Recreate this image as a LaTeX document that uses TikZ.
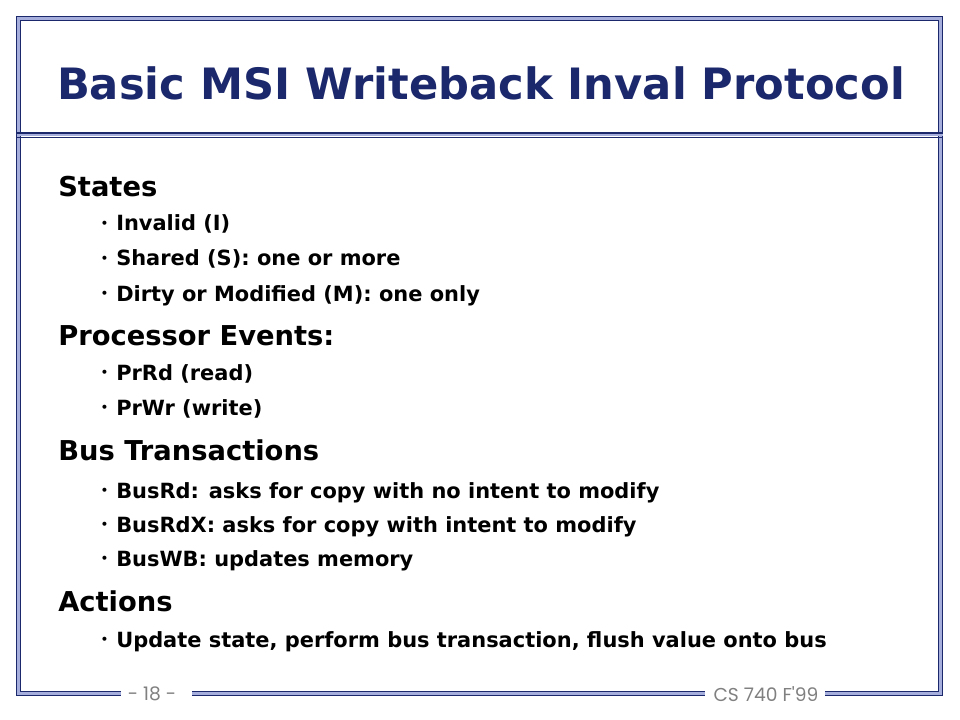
\documentclass[tikz,border=0pt]{standalone}
\usepackage{fontspec}
\usepackage{graphicx}
\setmainfont{DejaVu Sans}
\newfontfamily\footfont{Poppins}
\usepackage{tikz}
\usepackage{xcolor}

\definecolor{slidenavy}{RGB}{28,40,108}
\definecolor{slidelight}{RGB}{166,174,219}
\definecolor{footgray}{RGB}{128,128,128}

\newcommand{\bul}{\llap{\raisebox{0.3ex}{\scalebox{0.55}{\textbullet}}\hspace{6pt}}}

\tikzset{
  titletext/.style={anchor=base, inner sep=0.75pt, text=slidenavy, font=\fontsize{32.4}{36}\selectfont\bfseries},
  headtext/.style={anchor=base west, inner sep=0.75pt, font=\fontsize{20.5}{24}\selectfont\bfseries},
  itemtext/.style={anchor=base west, inner sep=0.75pt, font=\fontsize{15.7}{19}\selectfont\bfseries},
  foottext/.style={anchor=center, inner sep=0.75pt, text=footgray, font=\fontsize{14}{16}\selectfont\footfont},
}

\begin{document}
\begin{tikzpicture}[x=0.75pt,y=0.75pt,yscale=-1,xscale=1]
	\useasboundingbox (0,0) rectangle (960,720);
	\fill[white] (0,0) rectangle (960,720);

	%Frame [id:frame]
	\draw[draw=slidenavy, line width=1.1pt] (16.5,16.5) rectangle (942.5,695.5);
	\draw[draw=slidelight, line width=1.6pt] (18.5,18.5) rectangle (940.5,693.5);
	\draw[draw=slidenavy, line width=0.6pt] (20.5,20.5) rectangle (938.5,691.5);
	%Straight Lines [id:titlerule]
	\draw[draw=slidenavy, line width=1.1pt] (16.5,133) -- (942.5,133);
	\draw[draw=slidelight, line width=1.6pt] (16.5,135) -- (942.5,135);
	\draw[draw=slidenavy, line width=0.6pt] (16.5,137) -- (942.5,137);
	%Gaps for footer
	\fill[white] (121,685) rectangle (192,703);
	\fill[white] (705,685) rectangle (825,703);

	% Text Node
	\node[titletext] (title) at (481,100) {Basic MSI Writeback Inval Protocol};

	% Text Node
	\node[headtext] (states) at (57,197) {States};
	% Text Node
	\node[itemtext] (invalid) at (115,231) {\bul Invalid (I)};
	% Text Node
	\node[itemtext] (shared) at (115,266) {\bul Shared (S): one or more};
	% Text Node
	\node[itemtext] (dirty) at (115,301) {\bul Dirty or Modified (M): one only};

	% Text Node
	\node[headtext] (prevents) at (57,345) {Processor Events:};
	% Text Node
	\node[itemtext] (prrd) at (115,380) {\bul PrRd (read)};
	% Text Node
	\node[itemtext] (prwr) at (115,415) {\bul PrWr (write)};

	% Text Node
	\node[headtext] (bustrans) at (57,460) {Bus Transactions};
	% Text Node
	\node[itemtext] (busrd) at (115,498) {\bul BusRd: asks for copy with no intent to modify};
	% Text Node
	\node[itemtext] (busrdx) at (115,532) {\bul BusRdX: asks for copy with intent to modify};
	% Text Node
	\node[itemtext] (buswb) at (115,566) {\bul BusWB: updates memory};

	% Text Node
	\node[headtext] (actions) at (57,611) {Actions};
	% Text Node
	\node[itemtext] (update) at (115,647) {\bul Update state, perform bus transaction, flush value onto bus};

	% Footer Nodes
	\node[foottext] (pagenum) at (152,694) {- 18 -};
	\node[foottext] (course) at (766,694) {CS 740 F'99};
\end{tikzpicture}
\end{document}
